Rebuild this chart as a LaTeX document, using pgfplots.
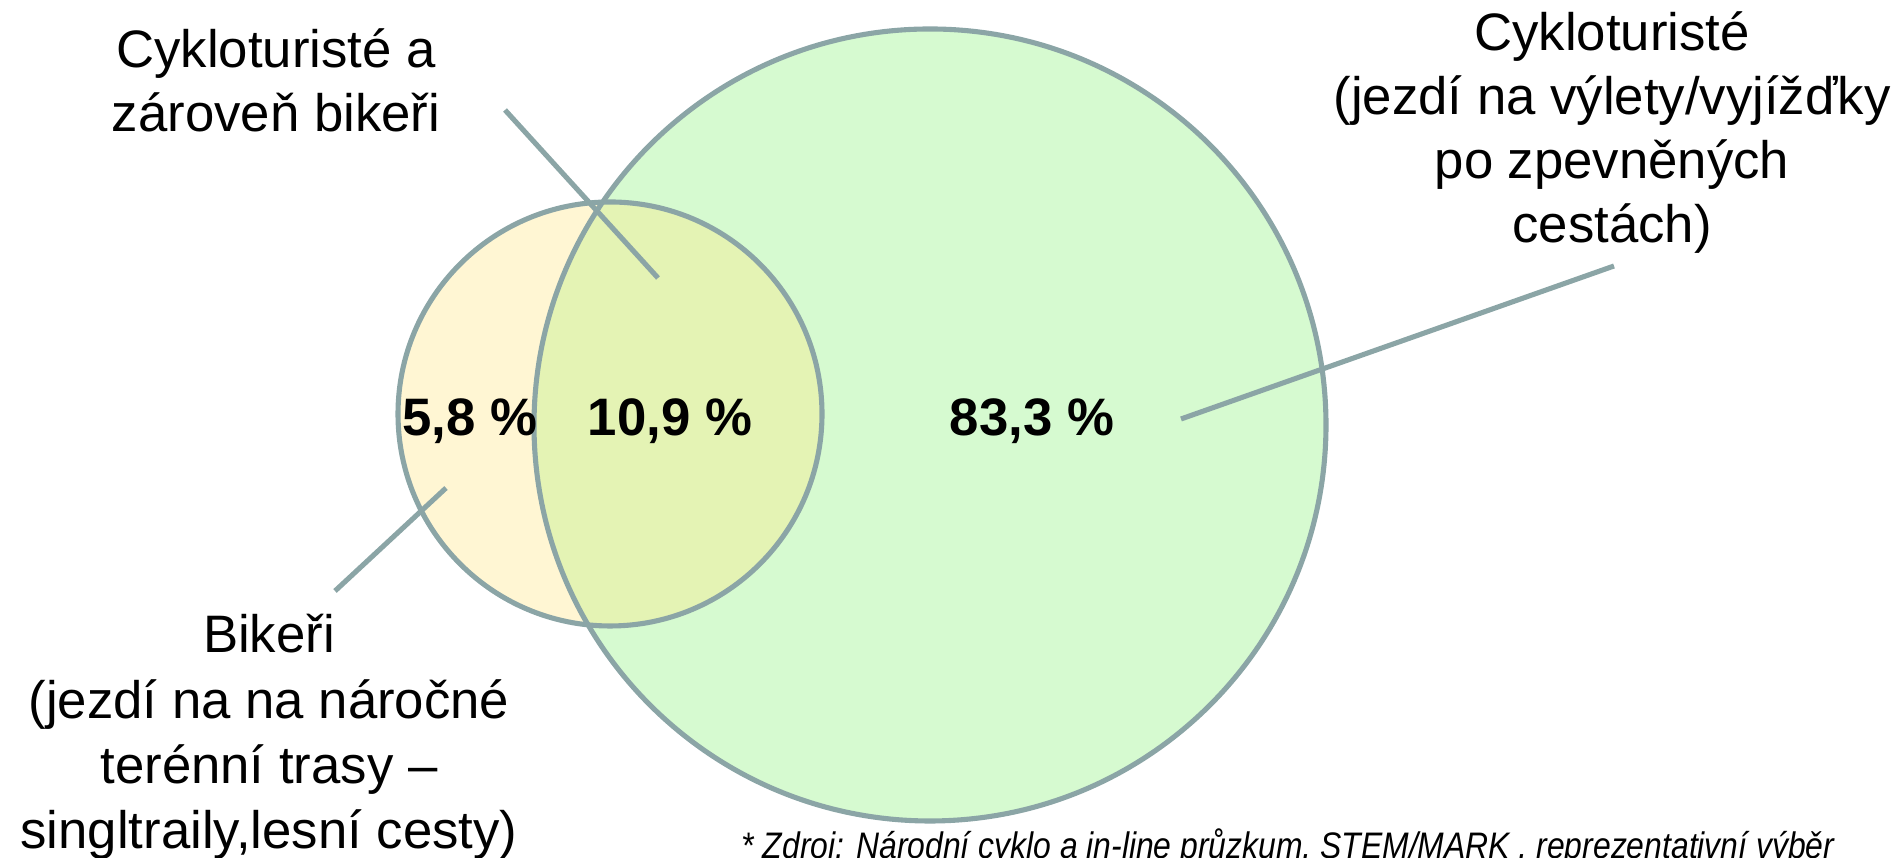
\documentclass[border=0pt]{standalone}
\usepackage{fontspec}
\setmainfont{Liberation Sans}
\usepackage{graphicx}
\usepackage{pgfplots}
\pgfplotsset{compat=1.18}
\definecolor{edge}{HTML}{8BA5A6}
\definecolor{greenfill}{HTML}{D6FAD0}
\definecolor{yellowfill}{HTML}{FFE680}
\begin{document}
\begin{tikzpicture}
\begin{axis}[
  hide axis, scale only axis, clip=false,
  width=18.99cm, height=8.58cm,
  xmin=0, xmax=1899, ymin=0, ymax=858,
]
% circles: centre x, centre y, radius (pixel units)
\fill[greenfill] (axis cs:930,433) circle[radius=396];
\fill[yellowfill, fill opacity=0.35] (axis cs:610,444) circle[radius=212];
\draw[edge, line width=1.45pt] (axis cs:930,433) circle[radius=396];
\draw[edge, line width=1.45pt] (axis cs:610,444) circle[radius=212];
% leader lines
\addplot[edge, line width=1.45pt, no marks] coordinates {(505,748) (658,580)};
\addplot[edge, line width=1.45pt, no marks] coordinates {(335,267) (446,370)};
\addplot[edge, line width=1.45pt, no marks] coordinates {(1181,439) (1614,592)};
% percentages
\node[font=\fontsize{15}{18}\selectfont\bfseries] at (axis cs:470,437) {5,8 \%};
\node[font=\fontsize{15}{18}\selectfont\bfseries] at (axis cs:670,437) {10,9 \%};
\node[font=\fontsize{15}{18}\selectfont\bfseries] at (axis cs:1032,437) {83,3 \%};
% labels
\node[align=center, font=\fontsize{15}{18.2}\selectfont] at (axis cs:276,778)
  {Cykloturisté a\\zároveň bikeři};
\node[align=center, font=\fontsize{15}{18.2}\selectfont] at (axis cs:1612,725)
  {Cykloturisté\\(jezdí na výlety/vyjížďky\\po zpevněných\\cestách)};
\node[align=center, font=\fontsize{15}{18.6}\selectfont] at (axis cs:269,121)
  {Bikeři\\(jezdí na na náročné\\terénní trasy –\\singltraily,lesní cesty)};
\node[anchor=base west, inner sep=0pt, font=\fontsize{10.5}{12}\selectfont\itshape] at (axis cs:741,-1)
  {\scalebox{0.864}[1]{* Zdroj: Národní cyklo a in-line průzkum, STEM/MARK , reprezentativní výběr}};
\end{axis}
\pgfresetboundingbox
\path[use as bounding box] (0,0) rectangle (18.99cm,8.58cm);
\end{tikzpicture}
\end{document}
